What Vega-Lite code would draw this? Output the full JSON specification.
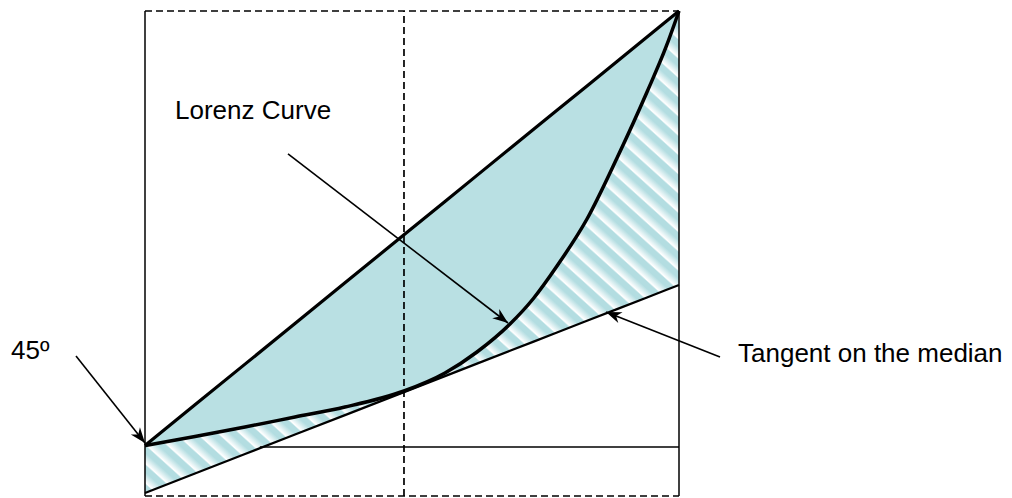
{
"$schema":"https://vega.github.io/schema/vega-lite/v6.json",
"width":534,"height":485,
"autosize":{"type":"none"},
"padding":{"left":145,"top":11,"right":333,"bottom":2},
"config":{"view":{"stroke":null}},
"datasets":{
"curve":[
{"p":0,"lorenz":0.1041,"equality":0.1041,"tangent":0.0062},
{"p":0.0936,"lorenz":0.1227,"equality":0.1880,"tangent":0.0463},
{"p":0.1873,"lorenz":0.1423,"equality":0.2719,"tangent":0.0865},
{"p":0.2809,"lorenz":0.1629,"equality":0.3558,"tangent":0.1267},
{"p":0.3745,"lorenz":0.1835,"equality":0.4396,"tangent":0.1668},
{"p":0.4850,"lorenz":0.2165,"equality":0.5386,"tangent":0.2142},
{"p":0.5618,"lorenz":0.2536,"equality":0.6074,"tangent":0.2472},
{"p":0.6217,"lorenz":0.2969,"equality":0.6611,"tangent":0.2729},
{"p":0.6835,"lorenz":0.3546,"equality":0.7164,"tangent":0.2994},
{"p":0.7266,"lorenz":0.4062,"equality":0.7551,"tangent":0.3178},
{"p":0.7715,"lorenz":0.4742,"equality":0.7953,"tangent":0.3371},
{"p":0.8277,"lorenz":0.5711,"equality":0.8456,"tangent":0.3612},
{"p":0.8839,"lorenz":0.6969,"equality":0.8960,"tangent":0.3853},
{"p":0.9401,"lorenz":0.8330,"equality":0.9463,"tangent":0.4094},
{"p":0.9757,"lorenz":0.9258,"equality":0.9782,"tangent":0.4247},
{"p":1,"lorenz":1,"equality":1,"tangent":0.4351}
],
"solid":[
{"x":0,"y":0,"x2":0,"y2":1},
{"x":1,"y":0,"x2":1,"y2":1},
{"x":0.215,"y":0.101,"x2":1,"y2":0.101}
],
"dashed":[
{"x":0,"y":1,"x2":1,"y2":1},
{"x":0,"y":0,"x2":1,"y2":0},
{"x":0.485,"y":0,"x2":0.485,"y2":1}
],
"arrows":[
{"x":0.2678,"y":0.7052,"x2":0.6798,"y2":0.3567,"angle":37.5},
{"x":-0.1292,"y":0.2887,"x2":0,"y2":0.1093,"angle":51.6},
{"x":1.0768,"y":0.2866,"x2":0.8633,"y2":0.3794,"angle":201.5}
],
"labels":[
{"x":0.0562,"y":0.7773,"text":"Lorenz Curve"},
{"x":-0.2509,"y":0.2825,"text":"45º"},
{"x":1.1105,"y":0.2763,"text":"Tangent on the median"}
]
},
"layer":[
{"data":{"name":"curve"},
"mark":{"type":"area","interpolate":"monotone","fill":{"gradient":"linear","x1":0,"y1":1,"x2":1,"y2":0,"stops":[
{"offset":0,"color":"#fff"},
{"offset":0.002,"color":"#b3dde1"},{"offset":0.009,"color":"#b3dde1"},{"offset":0.011,"color":"#fff"},
{"offset":0.022,"color":"#b3dde1"},{"offset":0.029,"color":"#b3dde1"},{"offset":0.031,"color":"#fff"},
{"offset":0.042,"color":"#b3dde1"},{"offset":0.049,"color":"#b3dde1"},{"offset":0.051,"color":"#fff"},
{"offset":0.062,"color":"#b3dde1"},{"offset":0.069,"color":"#b3dde1"},{"offset":0.071,"color":"#fff"},
{"offset":0.082,"color":"#b3dde1"},{"offset":0.089,"color":"#b3dde1"},{"offset":0.091,"color":"#fff"},
{"offset":0.102,"color":"#b3dde1"},{"offset":0.109,"color":"#b3dde1"},{"offset":0.111,"color":"#fff"},
{"offset":0.122,"color":"#b3dde1"},{"offset":0.129,"color":"#b3dde1"},{"offset":0.131,"color":"#fff"},
{"offset":0.142,"color":"#b3dde1"},{"offset":0.149,"color":"#b3dde1"},{"offset":0.151,"color":"#fff"},
{"offset":0.162,"color":"#b3dde1"},{"offset":0.169,"color":"#b3dde1"},{"offset":0.171,"color":"#fff"},
{"offset":0.182,"color":"#b3dde1"},{"offset":0.189,"color":"#b3dde1"},{"offset":0.191,"color":"#fff"},
{"offset":0.202,"color":"#b3dde1"},{"offset":0.209,"color":"#b3dde1"},{"offset":0.211,"color":"#fff"},
{"offset":0.222,"color":"#b3dde1"},{"offset":0.229,"color":"#b3dde1"},{"offset":0.231,"color":"#fff"},
{"offset":0.242,"color":"#b3dde1"},{"offset":0.249,"color":"#b3dde1"},{"offset":0.251,"color":"#fff"},
{"offset":0.262,"color":"#b3dde1"},{"offset":0.269,"color":"#b3dde1"},{"offset":0.271,"color":"#fff"},
{"offset":0.282,"color":"#b3dde1"},{"offset":0.289,"color":"#b3dde1"},{"offset":0.291,"color":"#fff"},
{"offset":0.302,"color":"#b3dde1"},{"offset":0.309,"color":"#b3dde1"},{"offset":0.311,"color":"#fff"},
{"offset":0.322,"color":"#b3dde1"},{"offset":0.329,"color":"#b3dde1"},{"offset":0.331,"color":"#fff"},
{"offset":0.342,"color":"#b3dde1"},{"offset":0.349,"color":"#b3dde1"},{"offset":0.351,"color":"#fff"},
{"offset":0.362,"color":"#b3dde1"},{"offset":0.369,"color":"#b3dde1"},{"offset":0.371,"color":"#fff"},
{"offset":0.382,"color":"#b3dde1"},{"offset":0.389,"color":"#b3dde1"},{"offset":0.391,"color":"#fff"},
{"offset":0.402,"color":"#b3dde1"},{"offset":0.409,"color":"#b3dde1"},{"offset":0.411,"color":"#fff"},
{"offset":0.422,"color":"#b3dde1"},{"offset":0.429,"color":"#b3dde1"},{"offset":0.431,"color":"#fff"},
{"offset":0.442,"color":"#b3dde1"},{"offset":0.449,"color":"#b3dde1"},{"offset":0.451,"color":"#fff"},
{"offset":0.462,"color":"#b3dde1"},{"offset":0.469,"color":"#b3dde1"},{"offset":0.471,"color":"#fff"},
{"offset":0.482,"color":"#b3dde1"},{"offset":0.489,"color":"#b3dde1"},{"offset":0.491,"color":"#fff"},
{"offset":0.502,"color":"#b3dde1"},{"offset":0.509,"color":"#b3dde1"},{"offset":0.511,"color":"#fff"},
{"offset":0.522,"color":"#b3dde1"},{"offset":0.529,"color":"#b3dde1"},{"offset":0.531,"color":"#fff"},
{"offset":0.542,"color":"#b3dde1"},{"offset":0.549,"color":"#b3dde1"},{"offset":0.551,"color":"#fff"},
{"offset":0.562,"color":"#b3dde1"},{"offset":0.569,"color":"#b3dde1"},{"offset":0.571,"color":"#fff"},
{"offset":0.582,"color":"#b3dde1"},{"offset":0.589,"color":"#b3dde1"},{"offset":0.591,"color":"#fff"},
{"offset":0.602,"color":"#b3dde1"},{"offset":0.609,"color":"#b3dde1"},{"offset":0.611,"color":"#fff"},
{"offset":0.622,"color":"#b3dde1"},{"offset":0.629,"color":"#b3dde1"},{"offset":0.631,"color":"#fff"},
{"offset":0.642,"color":"#b3dde1"},{"offset":0.649,"color":"#b3dde1"},{"offset":0.651,"color":"#fff"},
{"offset":0.662,"color":"#b3dde1"},{"offset":0.669,"color":"#b3dde1"},{"offset":0.671,"color":"#fff"},
{"offset":0.682,"color":"#b3dde1"},{"offset":0.689,"color":"#b3dde1"},{"offset":0.691,"color":"#fff"},
{"offset":0.702,"color":"#b3dde1"},{"offset":0.709,"color":"#b3dde1"},{"offset":0.711,"color":"#fff"},
{"offset":0.722,"color":"#b3dde1"},{"offset":0.729,"color":"#b3dde1"},{"offset":0.731,"color":"#fff"},
{"offset":0.742,"color":"#b3dde1"},{"offset":0.749,"color":"#b3dde1"},{"offset":0.751,"color":"#fff"},
{"offset":0.762,"color":"#b3dde1"},{"offset":0.769,"color":"#b3dde1"},{"offset":0.771,"color":"#fff"},
{"offset":0.782,"color":"#b3dde1"},{"offset":0.789,"color":"#b3dde1"},{"offset":0.791,"color":"#fff"},
{"offset":0.802,"color":"#b3dde1"},{"offset":0.809,"color":"#b3dde1"},{"offset":0.811,"color":"#fff"},
{"offset":0.822,"color":"#b3dde1"},{"offset":0.829,"color":"#b3dde1"},{"offset":0.831,"color":"#fff"},
{"offset":0.842,"color":"#b3dde1"},{"offset":0.849,"color":"#b3dde1"},{"offset":0.851,"color":"#fff"},
{"offset":0.862,"color":"#b3dde1"},{"offset":0.869,"color":"#b3dde1"},{"offset":0.871,"color":"#fff"},
{"offset":0.882,"color":"#b3dde1"},{"offset":0.889,"color":"#b3dde1"},{"offset":0.891,"color":"#fff"},
{"offset":0.902,"color":"#b3dde1"},{"offset":0.909,"color":"#b3dde1"},{"offset":0.911,"color":"#fff"},
{"offset":0.922,"color":"#b3dde1"},{"offset":0.929,"color":"#b3dde1"},{"offset":0.931,"color":"#fff"},
{"offset":0.942,"color":"#b3dde1"},{"offset":0.949,"color":"#b3dde1"},{"offset":0.951,"color":"#fff"},
{"offset":0.962,"color":"#b3dde1"},{"offset":0.969,"color":"#b3dde1"},{"offset":0.971,"color":"#fff"},
{"offset":0.982,"color":"#b3dde1"},{"offset":0.989,"color":"#b3dde1"},{"offset":0.991,"color":"#fff"},
{"offset":1,"color":"#fff"}
]}},
"encoding":{
"x":{"field":"p","type":"quantitative","scale":{"domain":[0,1],"nice":false,"zero":false},"axis":null},
"y":{"field":"lorenz","type":"quantitative","scale":{"domain":[0,1],"nice":false,"zero":false},"axis":null},
"y2":{"field":"tangent"}
}},
{"data":{"name":"curve"},
"mark":{"type":"area","interpolate":"monotone","fill":"#b9e0e3","opacity":1},
"encoding":{
"x":{"field":"p","type":"quantitative","scale":{"domain":[0,1],"nice":false,"zero":false},"axis":null},
"y":{"field":"equality","type":"quantitative","scale":{"domain":[0,1],"nice":false,"zero":false},"axis":null},
"y2":{"field":"lorenz"}
}},
{"data":{"name":"solid"},
"mark":{"type":"rule","color":"black","strokeWidth":1.5},
"encoding":{
"x":{"field":"x","type":"quantitative","scale":{"domain":[0,1],"nice":false,"zero":false},"axis":null},
"y":{"field":"y","type":"quantitative","scale":{"domain":[0,1],"nice":false,"zero":false},"axis":null},
"x2":{"field":"x2"},"y2":{"field":"y2"}
}},
{"data":{"name":"dashed"},
"mark":{"type":"rule","color":"black","strokeWidth":1.7,"strokeDash":[7,4]},
"encoding":{
"x":{"field":"x","type":"quantitative","scale":{"domain":[0,1],"nice":false,"zero":false},"axis":null},
"y":{"field":"y","type":"quantitative","scale":{"domain":[0,1],"nice":false,"zero":false},"axis":null},
"x2":{"field":"x2"},"y2":{"field":"y2"}
}},
{"data":{"name":"curve"},
"mark":{"type":"line","color":"black","strokeWidth":2.2},
"encoding":{
"x":{"field":"p","type":"quantitative","scale":{"domain":[0,1],"nice":false,"zero":false},"axis":null},
"y":{"field":"tangent","type":"quantitative","scale":{"domain":[0,1],"nice":false,"zero":false},"axis":null}
}},
{"data":{"name":"curve"},
"mark":{"type":"line","color":"black","strokeWidth":3.2},
"encoding":{
"x":{"field":"p","type":"quantitative","scale":{"domain":[0,1],"nice":false,"zero":false},"axis":null},
"y":{"field":"equality","type":"quantitative","scale":{"domain":[0,1],"nice":false,"zero":false},"axis":null}
}},
{"data":{"name":"curve"},
"mark":{"type":"line","color":"black","strokeWidth":3.5,"interpolate":"monotone"},
"encoding":{
"x":{"field":"p","type":"quantitative","scale":{"domain":[0,1],"nice":false,"zero":false},"axis":null},
"y":{"field":"lorenz","type":"quantitative","scale":{"domain":[0,1],"nice":false,"zero":false},"axis":null}
}},
{"data":{"name":"arrows"},
"mark":{"type":"rule","color":"black","strokeWidth":1.6},
"encoding":{
"x":{"field":"x","type":"quantitative","scale":{"domain":[0,1],"nice":false,"zero":false},"axis":null},
"y":{"field":"y","type":"quantitative","scale":{"domain":[0,1],"nice":false,"zero":false},"axis":null},
"x2":{"field":"x2"},"y2":{"field":"y2"}
}},
{"data":{"name":"arrows"},
"mark":{"type":"point","shape":"M0,0L-2,-0.75L-1.4,0L-2,0.75Z","filled":true,"color":"black","opacity":1,"size":240},
"encoding":{
"x":{"field":"x2","type":"quantitative","scale":{"domain":[0,1],"nice":false,"zero":false},"axis":null},
"y":{"field":"y2","type":"quantitative","scale":{"domain":[0,1],"nice":false,"zero":false},"axis":null},
"angle":{"field":"angle","type":"quantitative","scale":null}
}},
{"data":{"name":"labels"},
"mark":{"type":"text","align":"left","baseline":"alphabetic","font":"Liberation Sans","fontSize":26,"color":"black"},
"encoding":{
"x":{"field":"x","type":"quantitative","scale":{"domain":[0,1],"nice":false,"zero":false},"axis":null},
"y":{"field":"y","type":"quantitative","scale":{"domain":[0,1],"nice":false,"zero":false},"axis":null},
"text":{"field":"text"}
}}
]
}
